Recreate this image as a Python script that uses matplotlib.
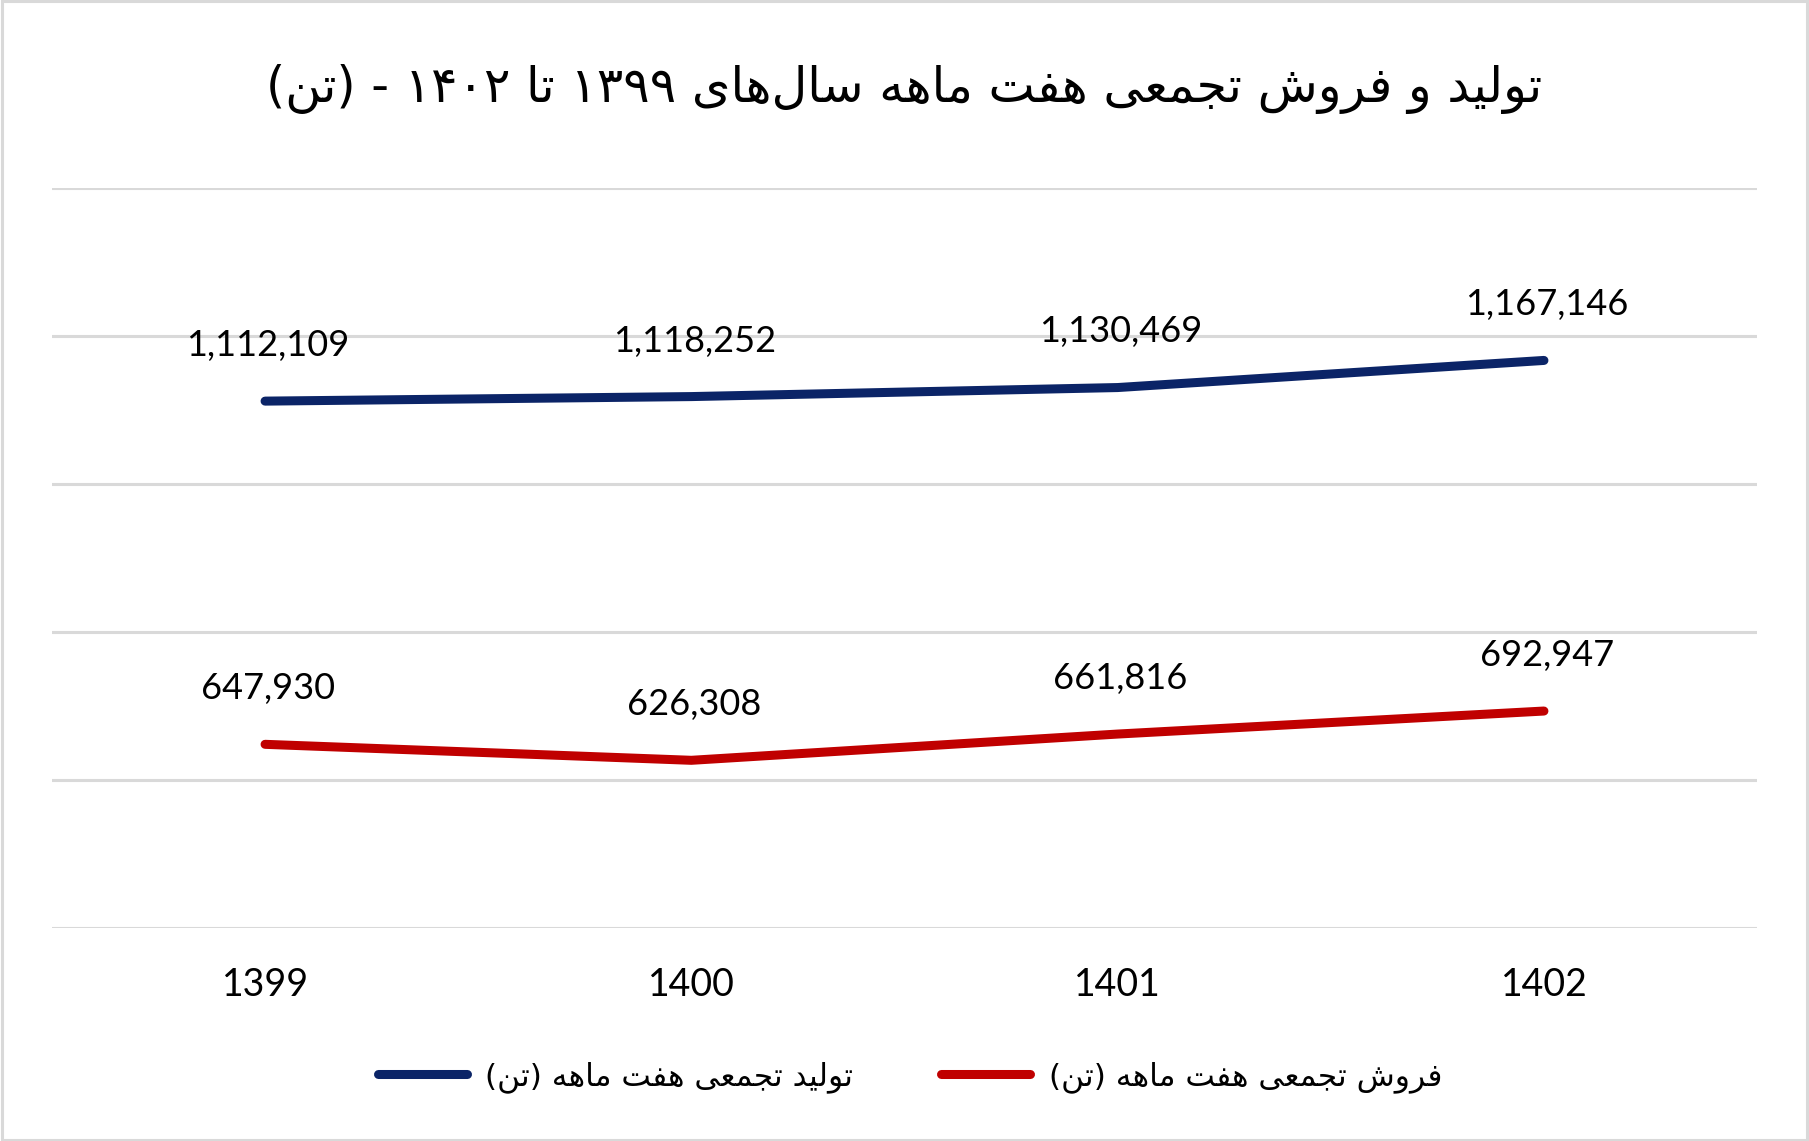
import re
import matplotlib
matplotlib.use("Agg")
import matplotlib.pyplot as plt
from matplotlib.lines import Line2D
from matplotlib.patches import Rectangle

OUTPUT_FILE = "out.png"

YEARS = ["1399", "1400", "1401", "1402"]
PRODUCTION = [1112109, 1118252, 1130469, 1167146]
SALES = [647930, 626308, 661816, 692947]

TITLE = "تولید و فروش تجمعی هفت ماهه سال\u200cهای ۱۳۹۹ تا ۱۴۰۲ - (تن)"
LABEL_PRODUCTION = "تولید تجمعی هفت ماهه (تن)"
LABEL_SALES = "فروش تجمعی هفت ماهه (تن)"

BLUE = "#0B2467"
RED = "#C00000"
GRID = "#D9D9D9"

# presentation forms: isolated, final, initial, medial
FORMS = {
    "\u0627": ("\uFE8D", "\uFE8E", None, None),
    "\u062F": ("\uFEA9", "\uFEAA", None, None),
    "\u0631": ("\uFEAD", "\uFEAE", None, None),
    "\u0648": ("\uFEED", "\uFEEE", None, None),
    "\u062A": ("\uFE95", "\uFE96", "\uFE97", "\uFE98"),
    "\u062C": ("\uFE9D", "\uFE9E", "\uFE9F", "\uFEA0"),
    "\u0633": ("\uFEB1", "\uFEB2", "\uFEB3", "\uFEB4"),
    "\u0634": ("\uFEB5", "\uFEB6", "\uFEB7", "\uFEB8"),
    "\u0639": ("\uFEC9", "\uFECA", "\uFECB", "\uFECC"),
    "\u0641": ("\uFED1", "\uFED2", "\uFED3", "\uFED4"),
    "\u0644": ("\uFEDD", "\uFEDE", "\uFEDF", "\uFEE0"),
    "\u0645": ("\uFEE1", "\uFEE2", "\uFEE3", "\uFEE4"),
    "\u0646": ("\uFEE5", "\uFEE6", "\uFEE7", "\uFEE8"),
    "\u0647": ("\uFEE9", "\uFEEA", "\uFEEB", "\uFEEC"),
    "\u06CC": ("\uFBFC", "\uFBFD", "\uFBFE", "\uFBFF"),
}


def shape_rtl(text):
    # matplotlib has no arabic shaping or bidi, so do it by hand
    chars = list(text)
    out = []
    for i, c in enumerate(chars):
        if c not in FORMS:
            out.append(c)
            continue
        prev = chars[i - 1] if i > 0 else ""
        nxt = chars[i + 1] if i + 1 < len(chars) else ""
        forms = FORMS[c]
        join_prev = prev in FORMS and FORMS[prev][2] is not None
        join_next = forms[2] is not None and nxt in FORMS
        if join_prev and join_next:
            out.append(forms[3])
        elif join_prev:
            out.append(forms[1])
        elif join_next:
            out.append(forms[2])
        else:
            out.append(forms[0])
    s = "".join(out).replace("\u200c", "")
    s = s[::-1]
    s = re.sub(r"[0-9\u06F0-\u06F9]+", lambda m: m.group(0)[::-1], s)
    s = s.translate(str.maketrans("()", ")("))
    return s


def draw_chart():
    fig = plt.figure(figsize=(18.09, 11.41), dpi=100)
    fig.patches.append(Rectangle((0.001, 0.001), 0.998, 0.998, transform=fig.transFigure,
                                 fill=False, edgecolor=GRID, linewidth=2.2))

    ax = fig.add_axes([0.0287, 0.187, 0.9426, 0.648])
    x = list(range(len(YEARS)))

    ax.plot(x, PRODUCTION, color=BLUE, linewidth=6.5, solid_capstyle="round", zorder=3)
    ax.plot(x, SALES, color=RED, linewidth=6.5, solid_capstyle="round", zorder=3)

    for xi, v in zip(x, PRODUCTION):
        ax.annotate(f"{v:,}", (xi, v), xytext=(2, 40), textcoords="offset points",
                    ha="center", va="center", fontsize=26, family=["Lato", "DejaVu Sans"])
    for xi, v in zip(x, SALES):
        ax.annotate(f"{v:,}", (xi, v), xytext=(2, 40), textcoords="offset points",
                    ha="center", va="center", fontsize=26, family=["Lato", "DejaVu Sans"])

    ax.set_xlim(-0.5, len(YEARS) - 0.5)
    ax.set_ylim(400000, 1400000)
    ax.set_yticks(range(400000, 1400001, 200000))
    ax.yaxis.grid(True, color=GRID, linewidth=2.2)
    ax.set_axisbelow(True)
    ax.tick_params(axis="y", left=False, labelleft=False)
    ax.set_xticks(x)
    ax.set_xticklabels(YEARS, fontsize=27, family=["Lato", "DejaVu Sans"])
    ax.tick_params(axis="x", bottom=False, pad=25)
    for sp in ax.spines.values():
        sp.set_visible(False)

    fig.text(0.5, 0.922, shape_rtl(TITLE), ha="center", va="center",
             fontsize=35.5, family=["DejaVu Sans"])

    handles = [
        Line2D([], [], color=BLUE, linewidth=6.5, solid_capstyle="round"),
        Line2D([], [], color=RED, linewidth=6.5, solid_capstyle="round"),
    ]
    fig.legend(handles, [shape_rtl(LABEL_PRODUCTION), shape_rtl(LABEL_SALES)],
               loc="center", bbox_to_anchor=(0.503, 0.056), ncol=2, frameon=False,
               prop={"family": "DejaVu Sans", "size": 22.5},
               handlelength=2.85, handletextpad=0.6, columnspacing=2.8)

    fig.savefig(OUTPUT_FILE, dpi=100)
    plt.close(fig)


def main():
    draw_chart()


if __name__ == "__main__":
    main()
